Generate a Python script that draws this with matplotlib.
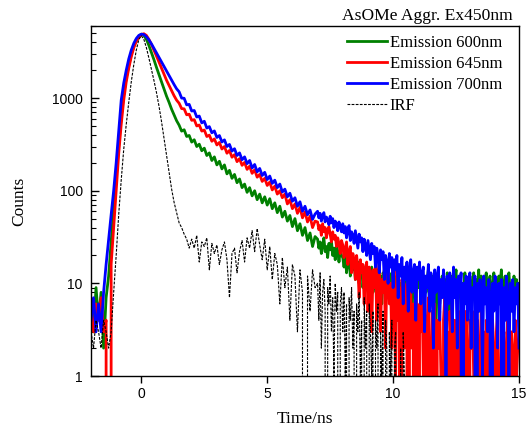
import numpy as np
import matplotlib
matplotlib.use('Agg')
import matplotlib.pyplot as plt
from matplotlib.ticker import LogLocator, NullFormatter, NullLocator

# TCSPC channels: 0.1 ns apart up to 7 ns, 0.05 ns apart in the tail
time_ns = np.round(np.concatenate([np.arange(-2.0, 6.95, 0.1),
                                   np.arange(7.0, 15.001, 0.05)]), 2)

# counts (0 = empty channel)
counts_600 = [6, 3, 9, 4, 8, 2, 7, 12, 28, 65,
              140, 300, 620, 1100, 1650, 2250, 2950, 3650, 4250, 4650,
              4900, 4750, 4300, 3700, 3100, 2600, 2150, 1800, 1500, 1250,
              1050, 900, 760, 660, 570,
              510, 440, 455, 385, 395, 335, 355, 300, 318, 270,
              288, 240, 256, 212, 232, 190, 208, 172, 190, 152,
              166, 136, 150, 122, 134, 108, 118, 96, 108, 88,
              100, 80, 92, 74, 86, 70, 82, 64, 74, 58,
              68, 52, 60, 47, 54, 41, 50, 37, 44, 33,
              40, 29, 35, 25, 32,
              # 7.00 ns onwards, 0.05 ns channels
              30, 24, 28, 21, 26, 31, 22, 25, 19, 27, 23, 29, 20, 24, 18, 26, 22, 17, 23, 20,
              19, 15, 21, 13, 17, 20, 12, 16, 14, 18, 11, 15, 17, 10, 14, 16, 9, 13, 15, 11,
              14, 9, 12, 15, 8, 13, 11, 7, 14, 10, 12, 6, 13, 11, 9, 14, 7, 12, 10, 13,
              8, 12, 5, 11, 13, 7, 10, 4, 12, 9, 14, 6, 11, 8, 13, 5, 10, 12, 7, 11,
              9, 13, 6, 10, 4, 12, 8, 11, 14, 5, 9, 12, 7, 10, 3, 11, 13, 6, 9, 12,
              8, 11, 5, 13, 9, 4, 12, 10, 7, 11, 14, 6, 9, 12, 5, 10, 8, 13, 6, 11,
              9, 12, 4, 10, 13, 7, 11, 8, 14, 5, 12, 9, 6, 11, 13, 7, 10, 12, 5, 9,
              13, 8, 11, 6, 12, 10, 14, 7, 9, 12, 5, 11, 13, 8, 10, 6, 12, 9, 11, 7,
              10]

counts_645 = [5, 3, 6, 4, 7, 3, 4, 0, 16, 40,
              100, 250, 520, 950, 1500, 2100, 2800, 3500, 4100, 4550,
              4850, 4950, 4750, 4300, 3800, 3300, 2850, 2450, 2100, 1800,
              1560, 1370, 1200, 1060, 950,
              880, 770, 765, 660, 670, 575, 585, 500, 512, 440,
              452, 385, 398, 342, 362, 312, 332, 282, 300, 254,
              272, 230, 245, 206, 222, 188, 202, 170, 184, 154,
              168, 140, 150, 126, 136, 114, 124, 102, 112, 92,
              100, 84, 92, 72, 80, 64, 72, 57, 66, 51,
              59, 46, 53, 40, 47,
              46, 38, 42, 33, 44, 36, 40, 31, 37, 41, 34, 28, 36, 30, 33, 25, 31, 27, 21, 29,
              26, 19, 24, 28, 16, 22, 25, 13, 21, 18, 11, 20, 15, 7, 18, 13, 16, 6, 14, 17,
              5, 15, 12, 3, 14, 9, 16, 4, 12, 18, 3, 11, 8, 14, 2, 13, 17, 6, 10, 2,
              12, 8, 1, 15, 4, 9, 0, 11, 6, 2, 7, 10, 0, 5, 8, 2, 6, 0, 9, 4,
              0, 6, 3, 8, 1, 5, 0, 4, 7, 2, 0, 5, 3, 6, 0, 4, 2, 5, 1, 0,
              4, 7, 1, 3, 0, 5, 2, 6, 0, 4, 3, 0, 5, 2, 1, 4, 0, 3, 5, 2,
              0, 4, 2, 5, 1, 0, 3, 4, 0, 2, 5, 1, 3, 0, 4, 2, 0, 3, 1, 4,
              2, 0, 3, 5, 1, 0, 4, 2, 3, 0, 2, 4, 1, 0, 3, 2, 0, 4, 1, 2,
              3]

counts_700 = [4, 7, 3, 6, 3, 8, 16, 30, 55, 100,
              200, 430, 950, 1450, 2000, 2650, 3300, 3900, 4400, 4750,
              4900, 4850, 4600, 4250, 3850, 3450, 3080, 2750, 2450, 2180,
              1950, 1740, 1560, 1400, 1260,
              1170, 1000, 995, 845, 855, 725, 735, 625, 640, 540,
              562, 475, 492, 422, 442, 376, 394, 336, 354, 300,
              316, 268, 284, 240, 256, 216, 232, 196, 212, 176,
              192, 160, 174, 146, 158, 132, 144, 120, 130, 108,
              118, 97, 104, 86, 94, 77, 84, 68, 76, 60,
              68, 55, 62, 49, 56,
              60, 51, 57, 47, 54, 58, 46, 52, 49, 43, 53, 45, 50, 40, 47, 44, 37, 46, 41, 36,
              44, 35, 41, 31, 38, 42, 29, 36, 33, 27, 37, 30, 24, 34, 28, 31, 22, 30, 26, 20,
              29, 23, 18, 27, 21, 25, 15, 24, 20, 13, 23, 18, 22, 11, 20, 17, 10, 21, 15, 19,
              9, 18, 14, 20, 7, 16, 12, 19, 6, 15, 11, 17, 5, 14, 18, 8, 13, 16, 4, 15,
              11, 17, 6, 13, 15, 3, 12, 9, 16, 5, 13, 10, 2, 14, 8, 12, 15, 4, 11, 7,
              14, 9, 1, 12, 6, 13, 10, 3, 15, 7, 11, 2, 12, 8, 13, 0, 10, 6, 12, 4,
              11, 13, 2, 9, 7, 12, 0, 10, 5, 11, 8, 1, 12, 6, 9, 3, 11, 7, 0, 10,
              5, 12, 8, 2, 10, 6, 11, 0, 9, 4, 12, 7, 1, 10, 5, 11, 3, 9, 6, 10,
              2]

counts_irf = [3, 2, 4, 3, 2, 4, 3, 2, 3, 8,
              20, 55, 130, 280, 520, 900, 1500, 2300, 3300, 4300,
              4700, 4300, 3500, 2700, 2050, 1550, 1150, 820, 560, 370,
              240, 160, 105, 75, 58, 45, 40, 34, 30, 24,
              30, 24, 33, 17, 28, 25, 31, 14, 27, 21,
              26, 16, 23, 28, 18, 7, 21, 24, 13, 22,
              29, 17, 31, 24, 37, 22, 39, 26, 18, 30,
              14, 25, 11, 21, 16, 6, 19, 9, 15, 4,
              16, 12, 3, 14, 8, 0, 12, 5, 14, 9,
              10, 4, 13, 2, 8, 11, 5, 0, 9, 6, 12, 3, 7, 1, 10, 5, 8, 0, 6, 9,
              3, 8, 1, 6, 0, 7, 4, 9, 2, 5, 0, 6, 3, 8, 1, 4, 0, 7, 2, 5,
              0, 6, 3, 1, 5, 0, 4, 2, 6, 0, 3, 1, 5, 0, 4, 2, 0, 3, 1, 4,
              0, 2, 3, 0, 1, 0, 2, 0, 3, 1, 0]

for series in (counts_600, counts_645, counts_700):
    if len(series) != len(time_ns):
        raise ValueError('length %d vs %d' % (len(series), len(time_ns)))

serif = 'Liberation Serif'
sans = 'Liberation Sans'

fig = plt.figure(figsize=(5.3, 4.37), dpi=100)
ax = fig.add_axes([91/530, 61/437, 428/530, 350/437])

ax.plot(time_ns, counts_600, color='#008000', lw=2.0, label='Emission 600nm')
ax.plot(time_ns, counts_645, color='#ff0000', lw=2.0, label='Emission 645nm')
ax.plot(time_ns, counts_700, color='#0000ff', lw=2.0, label='Emission 700nm')
ax.plot(time_ns[:len(counts_irf)], counts_irf, color='black', lw=0.8,
        ls=(0, (2.5, 1.2)), label='IRF')

ax.set_yscale('log', nonpositive='clip')
ax.set_xlim(-2, 15)
ax.set_ylim(1, 6000)

ax.set_xticks([0, 5, 10, 15])
ax.set_xticklabels(['0', '5', '10', '15'], family=sans, fontsize=10)
ax.xaxis.set_minor_locator(NullLocator())
ax.set_yticks([1, 10, 100, 1000])
ax.set_yticklabels(['1', '10', '100', '1000'], family=sans, fontsize=10)
ax.yaxis.set_minor_locator(LogLocator(base=10, subs=np.arange(2, 10)))
ax.yaxis.set_minor_formatter(NullFormatter())
ax.tick_params(axis='x', direction='out', length=5, width=1, pad=3)
ax.tick_params(axis='y', which='major', direction='in', length=6, width=1, pad=6)
ax.tick_params(axis='y', which='minor', direction='in', length=3.5, width=0.8)
for s in ax.spines.values():
    s.set_linewidth(1.0)

ax.set_xlabel('Time/ns', family=serif, fontsize=12.5)
ax.xaxis.set_label_coords(0.5, -0.1)
ax.set_ylabel('Counts', family=serif, fontsize=12.5)
ax.yaxis.set_label_coords(-0.15, 0.5)

fig.text(513/530, 1 - 20/437, 'AsOMe Aggr. Ex450nm', ha='right', va='baseline',
         family=serif, fontsize=12.6)

ax.legend(loc='upper left', bbox_to_anchor=(347/530, 1 - 35/437),
          bbox_transform=fig.transFigure, frameon=False,
          prop={'family': serif, 'size': 12}, handlelength=2.4,
          handletextpad=0.15, labelspacing=0.3, borderpad=0, borderaxespad=0)

fig.savefig('out.png', dpi=100)
